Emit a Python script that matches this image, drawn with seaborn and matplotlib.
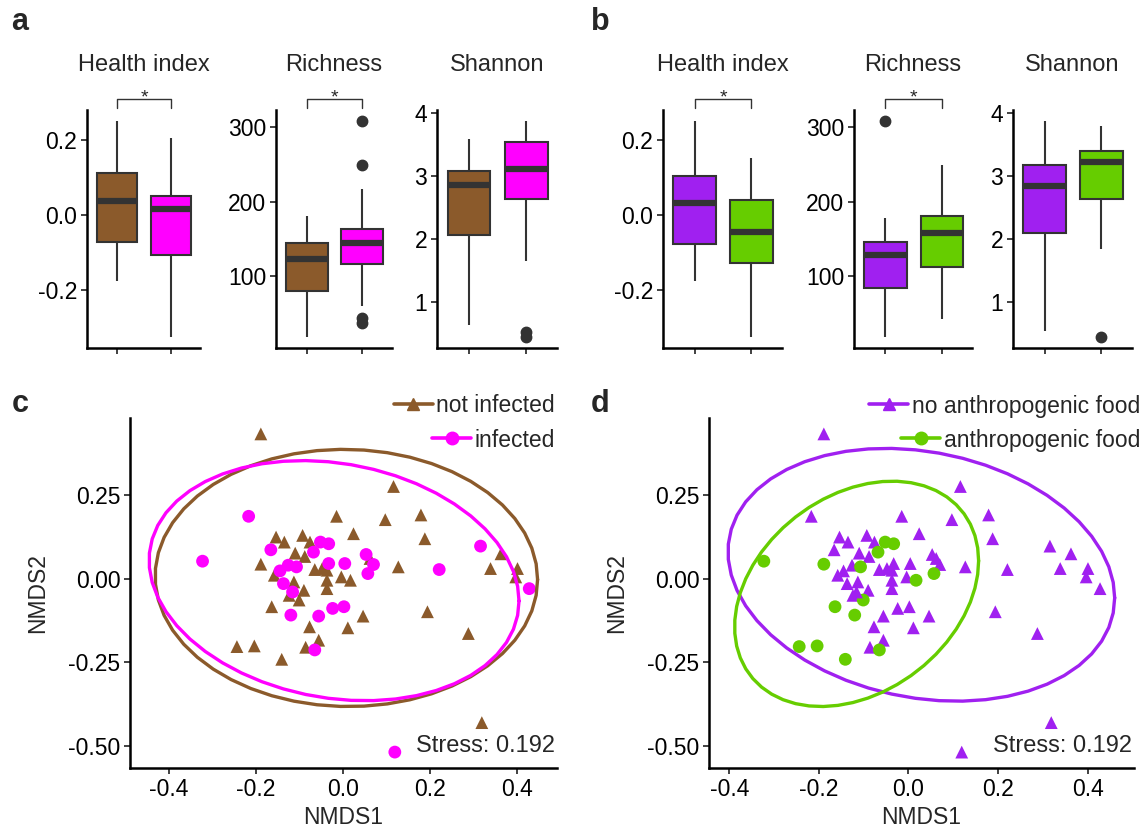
import numpy as np
import pandas as pd
import matplotlib
matplotlib.use("Agg")
import matplotlib.pyplot as plt
import seaborn as sns
from matplotlib.lines import Line2D

sns.set_theme(style="ticks")
plt.rcParams["font.family"] = ["Liberation Sans", "DejaVu Sans"]
plt.rcParams["axes.unicode_minus"] = False

BROWN = "#8B5A2B"
MAGENTA = "#FF00FF"
PURPLE = "#A020F0"
GREEN = "#66CD00"
INK = "#333333"
FS = 16.5

W, H = 1146, 835

# ---- box-plot summaries: (lower whisker, Q1, median, Q3, upper whisker), outliers ----
infection_groups = ["not infected", "infected"]
food_groups = ["no anthropogenic food", "anthropogenic food"]

health_by_infection = {"not infected": ([-0.175, -0.071, 0.039, 0.114, 0.252], []),
                       "infected": ([-0.325, -0.107, 0.017, 0.052, 0.207], [])}
richness_by_infection = {"not infected": ([17, 80, 122, 144, 181], []),
                         "infected": ([59, 116, 144, 163, 217], [309, 250, 43, 36])}
shannon_by_infection = {"not infected": ([0.64, 2.06, 2.85, 3.08, 3.58], []),
                        "infected": ([1.66, 2.64, 3.11, 3.53, 3.87], [0.53, 0.45])}

health_by_food = {"no anthropogenic food": ([-0.175, -0.076, 0.033, 0.106, 0.252], []),
                  "anthropogenic food": ([-0.325, -0.126, -0.045, 0.040, 0.154], [])}
richness_by_food = {"no anthropogenic food": ([17, 83, 128, 145, 178], [309]),
                    "anthropogenic food": ([42, 112, 158, 180, 250], [])}
shannon_by_food = {"no anthropogenic food": ([0.54, 2.09, 2.84, 3.17, 3.87], []),
                   "anthropogenic food": ([1.85, 2.64, 3.22, 3.40, 3.79], [0.45])}

# ---- NMDS ordination scores ----
nmds1 = [-0.189, 0.116, -0.015, 0.097, 0.179, 0.188, 0.024, -0.154, -0.135, -0.093,
         -0.076, -0.110, -0.088, -0.189, -0.158, -0.065, -0.048, -0.037, -0.037, -0.037,
         -0.004, 0.017, 0.062, 0.127, -0.113, -0.090, -0.124, -0.101, -0.164, -0.077,
         0.011, 0.046, 0.194, -0.056, -0.086, -0.244, -0.204, -0.141, 0.288, 0.339,
         0.363, 0.401, 0.397, 0.319,
         -0.217, -0.323, -0.166, -0.145, -0.126, -0.107, -0.137, -0.116, -0.120, -0.068,
         -0.052, -0.033, -0.033, 0.004, 0.053, 0.070, 0.057, -0.024, 0.002, -0.056,
         -0.065, 0.221, 0.316, 0.428, 0.119]
nmds2 = [0.432, 0.275, 0.186, 0.176, 0.190, 0.119, 0.134, 0.124, 0.109, 0.129,
         0.109, 0.076, 0.066, 0.043, 0.010, 0.027, 0.030, 0.025, -0.005, -0.030,
         0.005, -0.005, 0.060, 0.035, -0.010, -0.035, -0.050, -0.064, -0.084, -0.144,
         -0.147, -0.112, -0.099, -0.184, -0.205, -0.203, -0.201, -0.241, -0.164, 0.030,
         0.074, 0.030, 0.005, -0.430,
         0.186, 0.052, 0.086, 0.023, 0.040, 0.035, -0.015, -0.040, -0.109, 0.079,
         0.109, 0.104, 0.045, 0.045, 0.072, 0.042, 0.015, -0.089, -0.084, -0.112,
         -0.213, 0.027, 0.097, -0.030, -0.518]
infected = [0] * 44 + [1] * 25
anthropogenic = [0, 0, 0, 0, 0, 0, 0, 0, 0, 0,
                 0, 0, 0, 1, 0, 0, 0, 0, 0, 0,
                 0, 1, 0, 0, 0, 0, 0, 1, 1, 0,
                 0, 0, 0, 0, 0, 1, 1, 1, 0, 0,
                 0, 0, 0, 0,
                 0, 1, 0, 0, 0, 1, 0, 0, 1, 1,
                 1, 1, 0, 0, 0, 0, 1, 0, 0, 0,
                 1, 0, 0, 0, 0]
stress = 0.192

nmds = pd.DataFrame({
    "NMDS1": nmds1, "NMDS2": nmds2,
    "infection": [infection_groups[i] for i in infected],
    "food": [food_groups[a] for a in anthropogenic],
})


def px_axes(fig, left, right, top, bottom):
    return fig.add_axes([left / W, 1 - bottom / H, (right - left) / W, (bottom - top) / H])


def expand_summary(stats, outliers, m=4):
    """Sample whose quartiles, whiskers and outliers reproduce a box summary."""
    lo, q1, med, q3, hi = stats
    low = sorted(v for v in outliers if v < q1)
    high = sorted(v for v in outliers if v > q3)
    below = low + [lo] + [q1] * (m - len(low) - 1)
    above = [q3] * (m - len(high) - 1) + [hi] + high
    return below + [q1] + [med] * (2 * m - 1) + [q3] + above


def style_axes(ax):
    sns.despine(ax=ax)
    for side in ("left", "bottom"):
        ax.spines[side].set_linewidth(1.8)
        ax.spines[side].set_color("black")
    ax.tick_params(axis="both", length=4, width=1.3, color=INK, labelsize=FS,
                   labelcolor="black", pad=3)
    ax.set_facecolor("white")


def box_panel(ax, summary, order, palette, yticks, labels, title, star):
    rows = [(g, v) for g in order for v in expand_summary(*summary[g])]
    df = pd.DataFrame(rows, columns=["group", "value"])
    sns.boxplot(data=df, x="group", y="value", hue="group", order=order,
                hue_order=order, palette=palette, width=0.75, saturation=1,
                linewidth=1.5, linecolor=INK, showcaps=False, legend=False,
                flierprops=dict(marker="o", markerfacecolor=INK, markeredgecolor=INK,
                                markersize=7.5),
                medianprops=dict(color=INK, linewidth=4.5), ax=ax)
    lo, hi = df["value"].min(), df["value"].max()
    pad = 0.05 * (hi - lo)
    ax.set_ylim(lo - pad, hi + pad)
    ax.set_xlim(-0.56, 1.54)
    ax.set_yticks(yticks)
    ax.set_yticklabels(labels)
    ax.set_xticks([0, 1])
    ax.set_xticklabels([])
    ax.set_xlabel("")
    ax.set_ylabel("")
    style_axes(ax)
    ax.text(0.5, 1.19, title, transform=ax.transAxes, ha="center", va="center",
            fontsize=17)
    if star:
        tr = ax.get_xaxis_transform()
        ax.plot([0, 0, 1, 1], [1.008, 1.046, 1.046, 1.008], transform=tr,
                color=INK, lw=1.0, clip_on=False)
        ax.text(0.5, 1.03, "*", transform=tr, ha="center", va="baseline",
                fontsize=14)


def norm_ellipse(xy, level=0.95, segments=51):
    """95% data ellipse from the sample mean and covariance (F-scaled radius)."""
    n = len(xy)
    center = xy.mean(axis=0)
    shape = np.cov(xy, rowvar=False)
    dfd = n - 1
    fq = dfd / 2 * ((1 - level) ** (-2 / dfd) - 1)  # F(2, dfd) quantile
    radius = np.sqrt(2 * fq)
    ang = np.linspace(0, 2 * np.pi, segments + 1)
    circle = np.column_stack([np.cos(ang), np.sin(ang)])
    chol = np.linalg.cholesky(shape).T
    return center + radius * circle @ chol


def nmds_panel(ax, col, order, palette, markers):
    sns.scatterplot(data=nmds, x="NMDS1", y="NMDS2", hue=col, style=col,
                    hue_order=order, style_order=order, palette=palette,
                    markers=markers, s=85, linewidth=0, legend=False, ax=ax)
    allx, ally = list(nmds["NMDS1"]), list(nmds["NMDS2"])
    for g in order:
        pts = nmds.loc[nmds[col] == g, ["NMDS1", "NMDS2"]].to_numpy()
        ell = norm_ellipse(pts)
        ax.plot(ell[:, 0], ell[:, 1], color=palette[g], lw=2.4)
        allx += list(ell[:, 0])
        ally += list(ell[:, 1])
    xr = max(allx) - min(allx)
    yr = max(ally) - min(ally)
    ax.set_xlim(min(allx) - 0.05 * xr, max(allx) + 0.05 * xr)
    ax.set_ylim(min(ally) - 0.05 * yr, max(ally) + 0.05 * yr)
    ax.set_xticks([-0.4, -0.2, 0.0, 0.2, 0.4])
    ax.set_xticklabels(["-0.4", "-0.2", "0.0", "0.2", "0.4"])
    ax.set_yticks([-0.5, -0.25, 0.0, 0.25])
    ax.set_yticklabels(["-0.50", "-0.25", "0.00", "0.25"])
    style_axes(ax)
    ax.set_xlabel("NMDS1", fontsize=FS)
    ax.set_ylabel("NMDS2", fontsize=FS)
    ax.xaxis.set_label_coords(0.5, -0.11)
    ax.yaxis.set_label_coords(-0.19, 0.5)
    ax.text(0.995, 0.063, f"Stress: {stress}", transform=ax.transAxes,
            ha="right", va="center", fontsize=17)


def entry_legend(fig, color, marker, label, right, y):
    h = Line2D([0], [0], color=color, lw=2.6, marker=marker, markersize=9)
    fig.legend(handles=[h], labels=[label], loc="center right",
               bbox_to_anchor=(right / W, 1 - y / H), frameon=False, fontsize=FS,
               handlelength=1.7, handletextpad=0.15, borderpad=0, borderaxespad=0)


fig = plt.figure(figsize=(W / 100, H / 100), dpi=100)
fig.patch.set_facecolor("white")

inf_pal = {"not infected": BROWN, "infected": MAGENTA}
food_pal = {"no anthropogenic food": PURPLE, "anthropogenic food": GREEN}

top, bottom = 110, 348
box_panel(px_axes(fig, 87, 200, top, bottom), health_by_infection, infection_groups,
          inf_pal, [-0.2, 0.0, 0.2], ["-0.2", "0.0", "0.2"], "Health index", True)
box_panel(px_axes(fig, 276, 392, top, bottom), richness_by_infection, infection_groups,
          inf_pal, [100, 200, 300], ["100", "200", "300"], "Richness", True)
box_panel(px_axes(fig, 437, 557, top, bottom), shannon_by_infection, infection_groups,
          inf_pal, [1, 2, 3, 4], ["1", "2", "3", "4"], "Shannon", False)
box_panel(px_axes(fig, 663, 782, top, bottom), health_by_food, food_groups,
          food_pal, [-0.2, 0.0, 0.2], ["-0.2", "0.0", "0.2"], "Health index", True)
box_panel(px_axes(fig, 854, 972, top, bottom), richness_by_food, food_groups,
          food_pal, [100, 200, 300], ["100", "200", "300"], "Richness", True)
box_panel(px_axes(fig, 1013, 1132, top, bottom), shannon_by_food, food_groups,
          food_pal, [1, 2, 3, 4], ["1", "2", "3", "4"], "Shannon", False)

ax_c = px_axes(fig, 130, 557, 418, 768)
nmds_panel(ax_c, "infection", infection_groups, inf_pal,
           {"not infected": "^", "infected": "o"})
ax_d = px_axes(fig, 709, 1134, 418, 768)
nmds_panel(ax_d, "food", food_groups, food_pal,
           {"no anthropogenic food": "^", "anthropogenic food": "o"})

entry_legend(fig, BROWN, "^", "not infected", 555, 406)
entry_legend(fig, MAGENTA, "o", "infected", 555, 440)
entry_legend(fig, PURPLE, "^", "no anthropogenic food", 1140, 406)
entry_legend(fig, GREEN, "o", "anthropogenic food", 1140, 440)

for letter, x, y in [("a", 20, 22), ("b", 600, 22), ("c", 20, 404), ("d", 600, 404)]:
    fig.text(x / W, 1 - y / H, letter, fontsize=22, fontweight="bold",
             ha="center", va="center")

fig.savefig("out.png", dpi=100, facecolor="white")
